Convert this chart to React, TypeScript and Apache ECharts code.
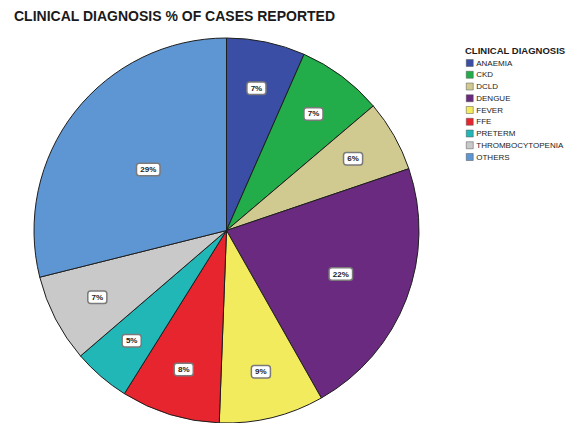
import React, { useEffect, useRef } from "react";
import * as echarts from "echarts";

const categories = [
  "ANAEMIA",
  "CKD",
  "DCLD",
  "DENGUE",
  "FEVER",
  "FFE",
  "PRETERM",
  "THROMBOCYTOPENIA",
  "OTHERS",
];
const percents = [6.6, 7.2, 6.0, 22.0, 8.8, 8.3, 4.8, 7.4, 28.9];
const colors = [
  "#3a4ea5",
  "#22ad4a",
  "#d0ca90",
  "#6a2a7f",
  "#f3eb5e",
  "#e6252f",
  "#22b7b7",
  "#c9c9c9",
  "#5d96d2",
];
const titleText = "CLINICAL DIAGNOSIS % OF CASES REPORTED";
const legendTitle = "CLINICAL DIAGNOSIS";

export default function App() {
  const ref = useRef<HTMLDivElement>(null);
  useEffect(() => {
    if (!ref.current) return;
    const chart = echarts.init(ref.current, undefined, { renderer: "svg" });
    const center = [226.5, 230.5];
    const R = 192.5;
    const rings = [
      { min: 25, max: 101, frac: 0.5 },
      { min: 15, max: 25, frac: 0.62 },
      { min: 0, max: 15, frac: 0.74 },
    ];
    const labelStyle = {
      position: "inside",
      formatter: (p: any) => `${Math.round(p.value)}%`,
      fontFamily: "Liberation Sans, Arial, sans-serif",
      fontSize: 8,
      fontWeight: "bold",
      color: "#222",
      backgroundColor: "#ffffff",
      borderColor: "#7a7a7a",
      borderWidth: 1.5,
      borderRadius: 2,
      padding: [2, 3, 1, 3],
    };
    const mainSeries = {
      type: "pie",
      center,
      radius: [0, R],
      startAngle: 90,
      clockwise: true,
      avoidLabelOverlap: false,
      label: { show: false },
      labelLine: { show: false },
      itemStyle: { borderColor: "#1e1e1e", borderWidth: 1 },
      emphasis: { disabled: true },
      data: categories.map((c, i) => ({
        name: c,
        value: percents[i],
        itemStyle: { color: colors[i] },
      })),
      z: 1,
    };
    const ringSeries = rings.map((rg) => ({
      type: "pie",
      center,
      radius: [0, 2 * rg.frac * R],
      startAngle: 90,
      clockwise: true,
      silent: true,
      avoidLabelOverlap: false,
      labelLine: { show: false },
      emphasis: { disabled: true },
      itemStyle: { color: "rgba(0,0,0,0)", borderWidth: 0 },
      data: categories.map((c, i) => ({
        name: c,
        value: percents[i],
        label: {
          ...labelStyle,
          show: percents[i] >= rg.min && percents[i] < rg.max,
        },
      })),
      z: 2,
    }));
    chart.setOption({
      animation: false,
      backgroundColor: "#ffffff",
      title: [
        {
          text: titleText,
          left: 9,
          top: 4,
          textStyle: {
            fontFamily: "Liberation Sans, Arial, sans-serif",
            fontSize: 14,
            fontWeight: "bold",
            color: "#1a1a1a",
          },
        },
        {
          text: legendTitle,
          left: 460,
          top: 40,
          textStyle: {
            fontFamily: "Liberation Sans, Arial, sans-serif",
            fontSize: 9.5,
            fontWeight: "bold",
            color: "#1a1a1a",
          },
        },
      ],
      legend: {
        orient: "vertical",
        left: 461,
        top: 53.5,
        itemWidth: 7,
        itemHeight: 7,
        itemGap: 2.75,
        selectedMode: false,
        icon: "rect",
        data: categories,
        itemStyle: { borderColor: "#555", borderWidth: 0.5 },
        textStyle: {
          fontFamily: "Liberation Sans, Arial, sans-serif",
          fontSize: 8,
          lineHeight: 9,
          color: "#222",
          padding: [0, 0, 0, -2],
        },
      },
      series: [mainSeries, ...ringSeries],
    });
    return () => chart.dispose();
  }, []);
  return (
    <div
      ref={ref}
      style={{ position: "fixed", left: 0, top: 0, width: 566, height: 423 }}
    />
  );
}
